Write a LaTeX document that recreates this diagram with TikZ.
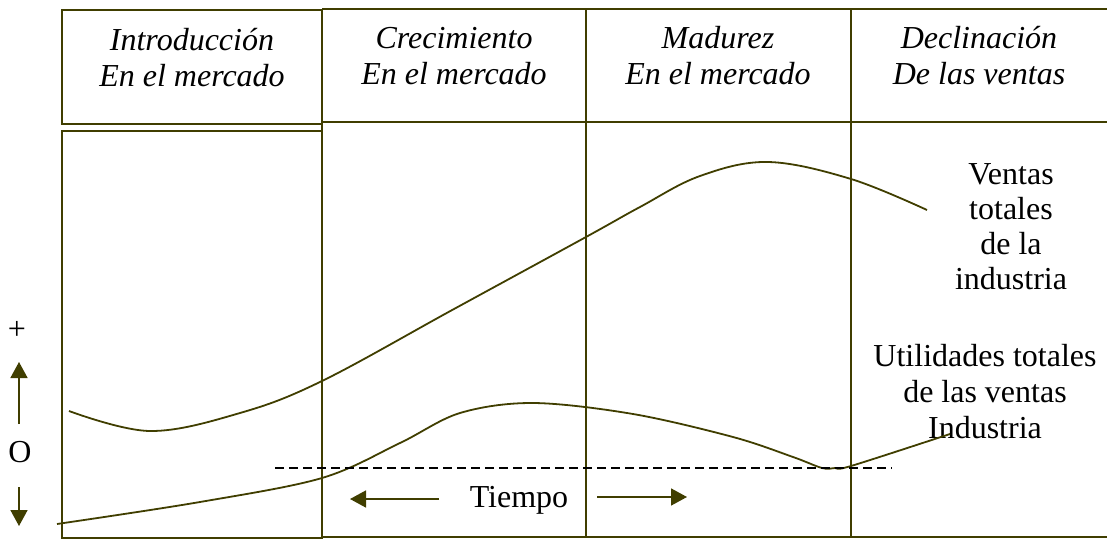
\documentclass[tikz,border=0pt]{standalone}
\usepackage{fontspec}
\setmainfont{Liberation Serif}
\usepackage{xcolor}
\usetikzlibrary{arrows.meta}
\definecolor{oliva}{RGB}{64,62,0}
\tikzset{
    every node/.style={font=\fontsize{32}{36}\selectfont, align=center, inner sep=0pt},
    marco/.style={draw=oliva, line width=2pt},
    curva/.style={draw=oliva, line width=1.8pt},
    flecha/.style={draw=oliva, line width=1.6pt, -{Triangle[width=17pt,length=16pt]}},
    fase/.style={font=\fontsize{32}{36}\selectfont\itshape}
}

\begin{document}
\begin{tikzpicture}[x=1pt, y=-1pt]
    \useasboundingbox (0,0) rectangle (1107,540);

    % Draw phase boxes
    \draw[marco] (62,10) rectangle (322,124);
    \draw[marco] (62,131) rectangle (322,538);
    \draw[marco] (322,9) -- (1108,9);
    \draw[marco] (322,122) -- (1108,122);
    \draw[marco] (322,537) -- (1108,537);
    \foreach \x in {322, 586, 851} {
        \draw[marco] (\x,9) -- (\x,537);
    }

    % Phase titles
    \node[fase] (intro) at (192,58) {Introducción\\En el mercado};
    \node[fase] (creci) at (454,56) {Crecimiento\\En el mercado};
    \node[fase] (madur) at (718,56) {Madurez\\En el mercado};
    \node[fase] (decli) at (979,56) {Declinación\\De las ventas};

    % Curve labels
    \node[font=\fontsize{32}{35}\selectfont] (ventas) at (1011,227) {Ventas\\totales\\de la\\industria};
    \node (utilidades) at (985,392) {Utilidades totales\\de las ventas\\Industria};

    % Total sales curve
    \draw[curva] plot[smooth, tension=0.6] coordinates {
        (69,411) (150,431) (240,413) (322,381) (454,309) (586,237)
        (640,207) (700,176) (768,162) (851,179) (927,210)};

    % Total profit curve
    \draw[curva] plot[smooth, tension=0.55] coordinates {
        (57,524) (200,502) (322,478) (400,443) (460,413) (533,403)
        (633,414) (733,437) (793,457) (822,468) (835,468) (851,466) (950,434)};

    % Break-even line
    \coordinate (cero izq) at (275,468);
    \coordinate (cero der) at (892,468);
    \draw[black, line width=1.4pt, dash pattern=on 9pt off 5pt] (cero izq) -- (cero der);

    % Vertical axis
    \node (mas) at (17,330) {+};
    \node (cero) at (20,452) {O};
    \coordinate (sube) at (19,424);
    \coordinate (sube tope) at (19,362);
    \coordinate (baja) at (19,487);
    \coordinate (baja tope) at (19,526);
    \draw[flecha] (sube) -- (sube tope);
    \draw[flecha] (baja) -- (baja tope);

    % Time axis
    \node (tiempo) at (519,500) {Tiempo};
    \coordinate (t izq) at (439,499);
    \coordinate (t izq tope) at (350,499);
    \coordinate (t der) at (597,497);
    \coordinate (t der tope) at (687,497);
    \draw[flecha] (t izq) -- (t izq tope);
    \draw[flecha] (t der) -- (t der tope);
\end{tikzpicture}
\end{document}
